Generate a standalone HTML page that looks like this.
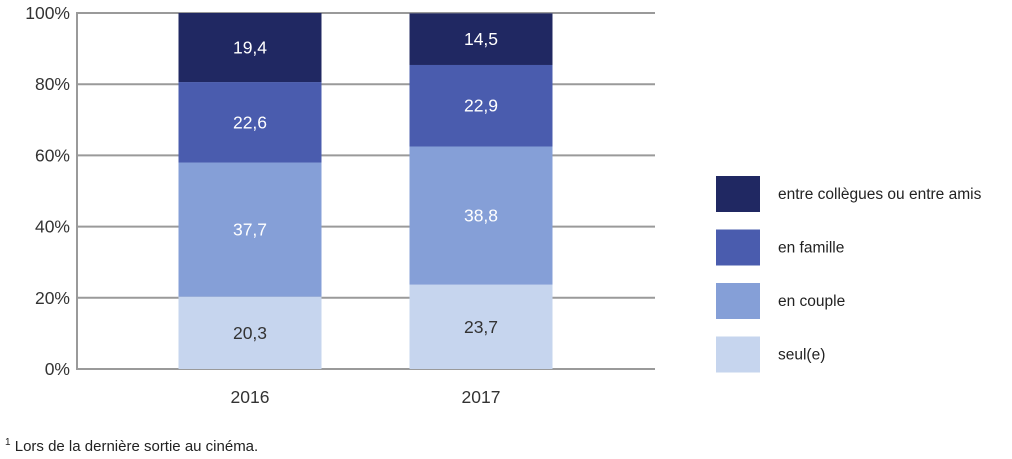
<!DOCTYPE html>
<html><head><meta charset="utf-8"><style>
body{margin:0;background:#fff;font-family:"Liberation Sans",sans-serif;}
svg{display:block}
</style></head><body>
<svg width="1012" height="459" id="c">
<g id="grid"></g><g id="bars"></g><g id="labels"></g><g id="legend"></g>
<text x="5" y="451" font-size="15" fill="#222"><tspan font-size="10" dy="-6">1</tspan><tspan dy="6"> Lors de la dernière sortie au cinéma.</tspan></text>
</svg>
<script>
const categories=["2016","2017"];
const seriesNames=["seul(e)","en couple","en famille","entre collègues ou entre amis"];
const seul=[20.3,23.7];
const couple=[37.7,38.8];
const famille=[22.6,22.9];
const amis=[19.4,14.5];
const ticks=[0,20,40,60,80,100];
const series=[seul,couple,famille,amis];
const colors=["#c6d5ee","#859fd7","#4a5cae","#202862"];
const textColors=["#333","#fff","#fff","#fff"];
const NS="http://www.w3.org/2000/svg";
const x0=77,x1=655,yTop=13,yBot=369;
const y=v=>yBot-(v/100)*(yBot-yTop);
const xc=i=>250+i*231;
const bw=143;
function mk(t,a,p){const e=document.createElementNS(NS,t);for(const k in a)e.setAttribute(k,a[k]);p.appendChild(e);return e;}
const grid=document.getElementById('grid'),bars=document.getElementById('bars'),labels=document.getElementById('labels'),legend=document.getElementById('legend');
ticks.forEach(t=>{
 const l=mk('line',{x1:x0,x2:x1,y1:y(t),y2:y(t),stroke:'#9a9a9a','stroke-width':2},grid);
 
 
 const tx=mk('text',{x:70,y:y(t)+6,'text-anchor':'end','font-size':17.5,fill:'#333'},grid);
 tx.textContent=t+'%';
 
 
});
const ax=mk('line',{x1:x0,x2:x0,y1:yTop-1,y2:yBot+1,stroke:'#9a9a9a','stroke-width':2},grid);


categories.forEach((c,i)=>{
 let cum=0;
 series.forEach((s,j)=>{
  const v=s[i];const yt=y(cum+v),yb=y(cum);
  const r=mk('rect',{x:xc(i)-bw/2,y:yt,width:bw,height:yb-yt,fill:colors[j]},bars);
  
  
  const t=mk('text',{x:xc(i),y:(yt+yb)/2+6,'text-anchor':'middle','font-size':17.5,fill:textColors[j]},labels);
  t.textContent=v.toFixed(1).replace('.',',');
  
  
  cum+=v;
 });
 const t=mk('text',{x:xc(i),y:403,'text-anchor':'middle','font-size':17.5,fill:'#333'},labels);
 t.textContent=c;
 
 
});
[3,2,1,0].forEach((j,k)=>{
 const yy=176+k*53.5;
 const r=mk('rect',{x:716,y:yy,width:44,height:36,fill:colors[j]},legend);
 
 
 const t=mk('text',{x:778,y:yy+23,'font-size':15.5,fill:'#222'},legend);
 t.textContent=seriesNames[j];
 
 
});
</script>
</body></html>
